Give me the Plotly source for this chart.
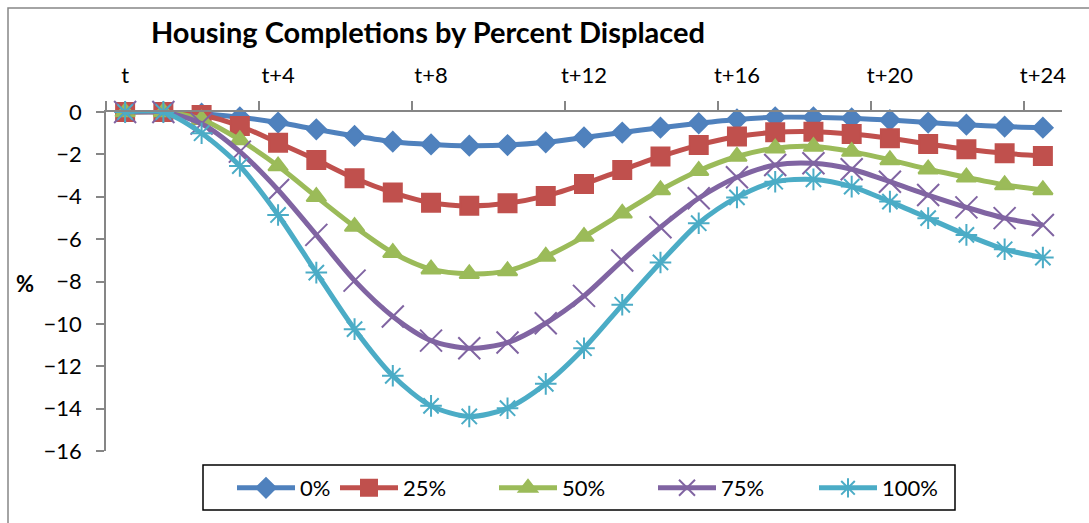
import plotly.graph_objects as go

# Periods after the shock: t, t+1, ..., t+24
period_index = list(range(25))
tick_positions = [0, 4, 8, 12, 16, 20, 24]
tick_labels = ["t", "t+4", "t+8", "t+12", "t+16", "t+20", "t+24"]
boundary_ticks = [-0.5, 3.5, 7.5, 11.5, 15.5, 19.5, 23.5]

y_ticks = [0, -2, -4, -6, -8, -10, -12, -14, -16]

# Housing completions response (%) by share of households displaced
displaced_0 = [0, 0, -0.08, -0.25, -0.5, -0.82, -1.13, -1.4, -1.53, -1.59, -1.56, -1.43,
               -1.2, -0.97, -0.74, -0.53, -0.35, -0.25, -0.25, -0.3, -0.38, -0.5, -0.6,
               -0.69, -0.74]
displaced_25 = [0, 0, -0.14, -0.66, -1.45, -2.26, -3.13, -3.8, -4.28, -4.43, -4.31, -3.96,
                -3.4, -2.74, -2.1, -1.56, -1.16, -0.96, -0.93, -1.04, -1.24, -1.51, -1.76,
                -1.95, -2.08]
displaced_50 = [0, 0, -0.35, -1.32, -2.55, -4.0, -5.41, -6.64, -7.42, -7.64, -7.5, -6.82,
                -5.88, -4.78, -3.68, -2.77, -2.1, -1.71, -1.63, -1.87, -2.26, -2.7, -3.08,
                -3.44, -3.68]
displaced_75 = [0, 0, -0.55, -1.87, -3.68, -5.8, -7.96, -9.65, -10.79, -11.15, -10.88, -9.97,
                -8.68, -7.01, -5.44, -4.07, -3.08, -2.5, -2.42, -2.7, -3.29, -3.92, -4.5,
                -5.01, -5.33]
displaced_100 = [0, 0, -1.0, -2.55, -4.86, -7.58, -10.25, -12.45, -13.87, -14.37, -13.98, -12.83,
                 -11.15, -9.1, -7.1, -5.25, -4.03, -3.29, -3.18, -3.52, -4.23, -5.01, -5.8,
                 -6.48, -6.87]

series_names = ["0%", "25%", "50%", "75%", "100%"]
series_values = [displaced_0, displaced_25, displaced_50, displaced_75, displaced_100]
series_colors = ["#4F81BD", "#C0504D", "#9BBB59", "#8064A2", "#4BACC6"]
series_symbols = ["diamond", "square", "triangle-up", "x-thin-open", "asterisk-open"]
series_sizes = [15, 18, 17, 22, 18]
legend_widths = [30, 86, 86, 88, 86]

FONT = "Lato"
AXIS_GRAY = "#868686"

fig = go.Figure()
for name, vals, color, sym, size, lw in zip(series_names, series_values, series_colors,
                                            series_symbols, series_sizes, legend_widths):
    fig.add_trace(go.Scatter(
        x=period_index, y=vals, name=name, mode="lines+markers",
        line=dict(color=color, width=5, shape="spline", smoothing=0.8),
        marker=dict(symbol=sym, size=size, color=color,
                    line=dict(color=color, width=2)),
        cliponaxis=False, legendwidth=lw,
    ))

fig.update_layout(
    width=1089, height=523,
    margin=dict(l=106, r=27, t=112, b=72),
    paper_bgcolor="white", plot_bgcolor="white",
    font=dict(family=FONT, size=22, color="black"),
    title=dict(text="<b>Housing Completions by Percent Displaced</b>",
               font=dict(family=FONT, size=29, color="black"),
               x=0.393, xanchor="center", xref="container",
               y=1 - 33 / 523, yanchor="middle", yref="container"),
    xaxis=dict(
        range=[-0.5, 24.5], side="top", showgrid=False, zeroline=False,
        showline=True, linecolor=AXIS_GRAY, linewidth=1.5,
        tickmode="array", tickvals=tick_positions, ticktext=tick_labels,
        ticks="", ticklabelstandoff=18,
        tickfont=dict(family=FONT, size=22),
        minor=dict(tickmode="array", tickvals=boundary_ticks, ticks="outside",
                   ticklen=9, tickcolor=AXIS_GRAY, tickwidth=1.5, showgrid=False),
    ),
    yaxis=dict(
        range=[-16, 0], showgrid=False, zeroline=False,
        showline=True, linecolor=AXIS_GRAY, linewidth=1.5,
        tickmode="array", tickvals=y_ticks,
        ticks="outside", ticklen=8, tickcolor=AXIS_GRAY, tickwidth=1.5,
        ticklabelstandoff=10, tickfont=dict(family=FONT, size=22),
    ),
    legend=dict(
        orientation="h", x=(232 - 106) / 956, xanchor="left",
        y=(451 - 488) / 339, yanchor="middle",
        borderwidth=0, bgcolor="rgba(0,0,0,0)",
        font=dict(family=FONT, size=22), itemwidth=58,
    ),
    showlegend=True,
)

# Legend frame
fig.add_shape(type="rect", xref="paper", yref="paper",
              x0=(203 - 106) / 956, x1=(955 - 106) / 956,
              y0=(451 - 510) / 339, y1=(451 - 465) / 339,
              line=dict(color="black", width=1.5), fillcolor="white", layer="below")

# "%" unit label beside the value axis
fig.add_annotation(text="<b>%</b>", xref="paper", yref="paper",
                   x=-(106 - 25) / 956, y=(451 - 283) / 339,
                   xanchor="center", yanchor="middle", showarrow=False,
                   font=dict(family=FONT, size=22, color="black"))

# Chart-area frame
fig.add_shape(type="rect", xref="paper", yref="paper",
              x0=-(106 - 8) / 956, x1=(1100 - 106) / 956,
              y0=(451 - 540) / 339, y1=(451 - 8) / 339,
              line=dict(color=AXIS_GRAY, width=1.5), layer="below")

fig.write_html("out.html")
